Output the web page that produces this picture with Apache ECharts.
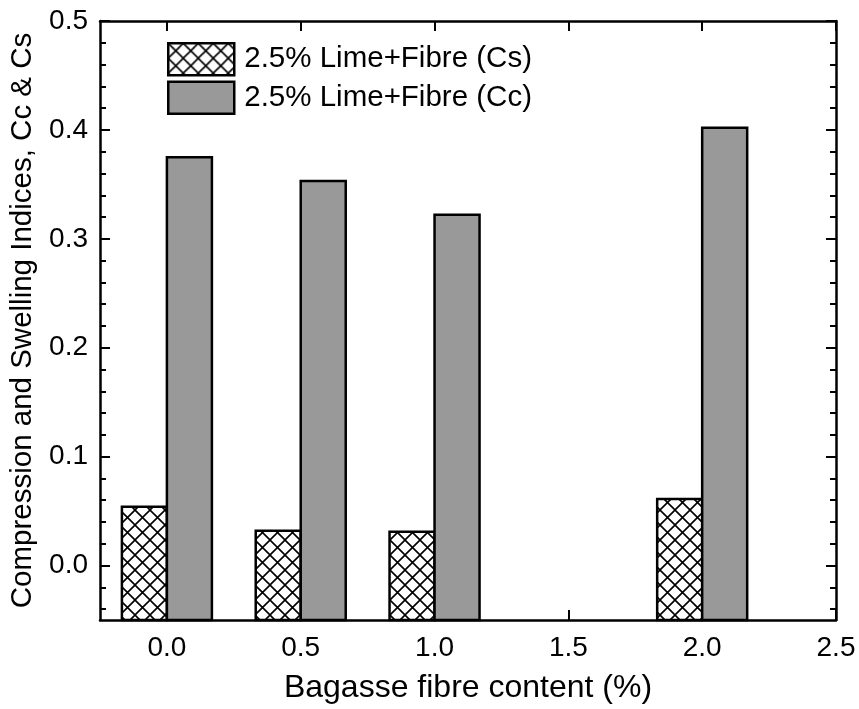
<!DOCTYPE html>
<html>
<head>
<meta charset="utf-8">
<script src="https://cdn.jsdelivr.net/npm/echarts@6/dist/echarts.min.js"></script>
<style>
  html, body { margin: 0; padding: 0; background: #fff; }
  #main { width: 859px; height: 709px; }
</style>
</head>
<body>
<div id="main"></div>
<script>
// fibre content (%) and the two indices
var fibre = [0.0, 0.5, 1.0, 2.0];
var csValues = [0.054, 0.032, 0.031, 0.061];
var ccValues = [0.375, 0.353, 0.322, 0.402];

var xTicks = [0, 0.5, 1.0, 1.5, 2.0, 2.5];
var yTicks = [0, 0.1, 0.2, 0.3, 0.4, 0.5];
var yMinorTicks = [-0.04, -0.02, 0.02, 0.04, 0.06, 0.08, 0.12, 0.14, 0.16, 0.18,
  0.22, 0.24, 0.26, 0.28, 0.32, 0.34, 0.36, 0.38, 0.42, 0.44, 0.46, 0.48];

var yMin = -0.05, yMax = 0.5;

// crosshatch pattern for Cs bars
var hatch = document.createElement('canvas');
hatch.width = 15;
hatch.height = 15;
var ctx = hatch.getContext('2d');
ctx.fillStyle = '#fff';
ctx.fillRect(0, 0, 15, 15);
ctx.strokeStyle = '#000';
ctx.lineWidth = 1.6;
ctx.beginPath();
ctx.moveTo(0, 0); ctx.lineTo(15, 15);
ctx.moveTo(15, 0); ctx.lineTo(0, 15);
ctx.stroke();
var hatchFill = { image: hatch, repeat: 'repeat' };

var font = 'Liberation Sans, Arial, sans-serif';
var barW = 45;

function pairs(vals) {
  return fibre.map(function (f, i) { return [f, vals[i]]; });
}

// bars drawn from the bottom of the axis (like the original plot)
function barRenderer(offset, fill) {
  return function (params, api) {
    var x = api.value(0), v = api.value(1);
    var top = api.coord([x, v]);
    var bottom = api.coord([x, yMin]);
    return {
      type: 'rect',
      shape: { x: top[0] + offset, y: top[1], width: barW, height: bottom[1] - top[1] },
      style: { fill: fill, stroke: '#000', lineWidth: 2.5 }
    };
  };
}

var chart = echarts.init(document.getElementById('main'));

var lineStyle = { color: '#000', width: 2.5 };
var tickStyle = { color: '#000', width: 2 };

function yAxis(pos, ticks, len, showLine) {
  return {
    type: 'value', min: yMin, max: yMax, position: pos,
    axisLine: { show: showLine, onZero: false, lineStyle: lineStyle },
    axisTick: { show: true, inside: true, length: len, lineStyle: tickStyle, customValues: ticks },
    axisLabel: { show: false },
    splitLine: { show: false }
  };
}

var yLeft = yAxis('left', yTicks, 10, true);
yLeft.name = 'Compression and Swelling Indices, Cc & Cs';
yLeft.nameLocation = 'middle';
yLeft.nameGap = 56;
yLeft.nameTextStyle = { fontFamily: font, fontSize: 29.5, color: '#000' };
yLeft.axisLabel = { fontFamily: font, fontSize: 28, color: '#000', margin: 12, customValues: yTicks,
  formatter: function (v) { return v.toFixed(1); } };

var option = {
  animation: false,
  grid: { left: 100, right: 23, top: 21, bottom: 89 },
  legend: {
    orient: 'vertical',
    left: 167,
    top: 42,
    padding: 0,
    itemWidth: 66,
    itemHeight: 32,
    itemGap: 4,
    icon: 'rect',
    itemStyle: { borderColor: '#000', borderWidth: 2.5 },
    textStyle: { fontFamily: font, fontSize: 29.5, color: '#000', lineHeight: 32, padding: [0, 0, 0, 5] },
    data: ['2.5% Lime+Fibre (Cs)', '2.5% Lime+Fibre (Cc)']
  },
  xAxis: [{
    type: 'value',
    min: -0.25,
    max: 2.5,
    position: 'bottom',
    name: 'Bagasse fibre content (%)',
    nameLocation: 'middle',
    nameGap: 52,
    nameTextStyle: { fontFamily: font, fontSize: 32, color: '#000' },
    axisLine: { onZero: false, lineStyle: lineStyle },
    axisTick: { inside: true, length: 10, lineStyle: tickStyle, customValues: xTicks },
    axisLabel: { fontFamily: font, fontSize: 28, color: '#000', margin: 14, customValues: xTicks,
      formatter: function (v) { return v.toFixed(1); } },
    splitLine: { show: false }
  }, {
    type: 'value',
    min: -0.25,
    max: 2.5,
    position: 'top',
    axisLine: { show: true, onZero: false, lineStyle: lineStyle },
    axisTick: { inside: true, length: 10, lineStyle: tickStyle, customValues: xTicks },
    axisLabel: { show: false },
    splitLine: { show: false }
  }],
  yAxis: [
    yLeft,
    yAxis('left', yMinorTicks, 6, false),
    yAxis('right', yTicks, 10, true),
    yAxis('right', yMinorTicks, 6, false)
  ],
  series: [{
    name: '2.5% Lime+Fibre (Cs)',
    type: 'custom',
    xAxisIndex: 0,
    yAxisIndex: 0,
    encode: { x: 0, y: 1 },
    itemStyle: { color: hatchFill, borderColor: '#000', borderWidth: 2.5 },
    renderItem: barRenderer(-barW, hatchFill),
    data: pairs(csValues)
  }, {
    name: '2.5% Lime+Fibre (Cc)',
    type: 'custom',
    xAxisIndex: 0,
    yAxisIndex: 0,
    encode: { x: 0, y: 1 },
    itemStyle: { color: '#999999', borderColor: '#000', borderWidth: 2.5 },
    renderItem: barRenderer(0, '#999999'),
    data: pairs(ccValues)
  }]
};

chart.setOption(option);
</script>
</body>
</html>
